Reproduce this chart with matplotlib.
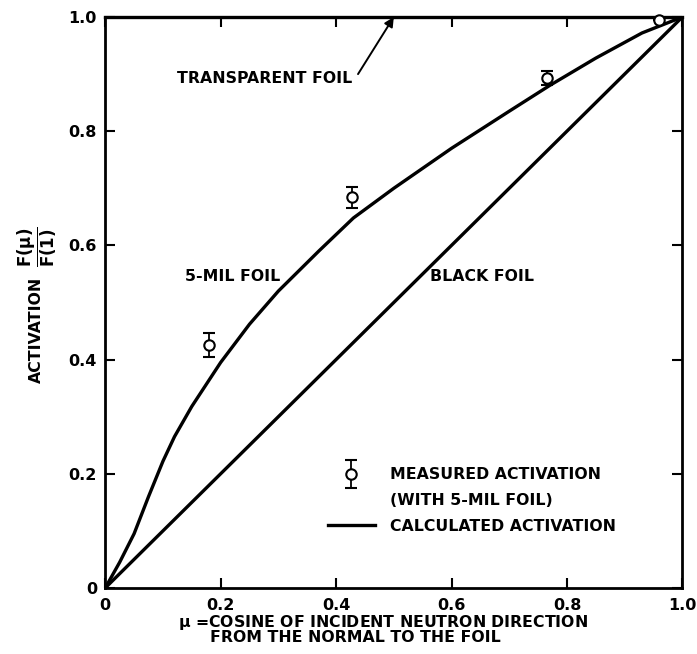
import matplotlib.pyplot as plt
from matplotlib.lines import Line2D
from matplotlib.container import ErrorbarContainer
from matplotlib.legend_handler import HandlerErrorbar

plt.rcParams['font.family'] = ['DejaVu Sans']
plt.rcParams['font.weight'] = 'bold'
plt.rcParams['mathtext.default'] = 'regular'

# calculated activation, 5-mil foil
mu = [0, 0.025, 0.05, 0.075, 0.1, 0.12, 0.15, 0.2, 0.25, 0.3, 0.37, 0.43,
      0.5, 0.6, 0.7, 0.77, 0.85, 0.93, 1.0]
f_5mil = [0, 0.045, 0.095, 0.16, 0.222, 0.265, 0.318, 0.395, 0.462, 0.52,
          0.59, 0.648, 0.70, 0.77, 0.835, 0.88, 0.928, 0.972, 1.0]

# black foil: activation proportional to mu
mu_black = [0, 1.0]
f_black = [0, 1.0]

# transparent foil: flat
mu_transp = [0, 1.0]
f_transp = [1.0, 1.0]

# measured points (5-mil foil)
mu_meas = [0.18, 0.428, 0.766, 0.96]
f_meas = [0.426, 0.684, 0.893, 0.995]
f_err = [0.021, 0.018, 0.012, 0.0]

ticks = [0, 0.2, 0.4, 0.6, 0.8, 1.0]
tick_labels = ['0', '0.2', '0.4', '0.6', '0.8', '1.0']

fs = 11.3

fig = plt.figure(figsize=(6.97, 6.54), dpi=100)
ax = fig.add_axes([0.151, 0.101, 0.828, 0.873])

ax.plot(mu, f_5mil, color='k', lw=2.4)
ax.plot(mu_black, f_black, color='k', lw=2.4)
ax.plot(mu_transp, f_transp, color='k', lw=2.4, clip_on=False)
meas = ax.errorbar(mu_meas, f_meas, yerr=f_err, fmt='o', ms=7.5, mfc='white',
                   mec='k', mew=1.5, ecolor='k', elinewidth=1.3, capsize=4,
                   capthick=1.3, clip_on=False, zorder=5)

ax.set_xlim(0, 1)
ax.set_ylim(0, 1)
ax.set_xticks(ticks)
ax.set_xticklabels(tick_labels)
ax.set_yticks(ticks)
ax.set_yticklabels(tick_labels)
ax.tick_params(direction='in', length=7, width=1.5, top=True, right=True,
               labelsize=11.5, pad=6)
ax.tick_params(axis='x', pad=7)
for s in ax.spines.values():
    s.set_linewidth(2)

ax.text(0.139, 0.545, '5-MIL FOIL', va='center', fontsize=fs)
ax.text(0.563, 0.545, 'BLACK FOIL', va='center', fontsize=fs)
ax.text(0.428, 0.893, 'TRANSPARENT FOIL', ha='right', va='center', fontsize=fs)
ax.annotate('', xy=(0.5, 1.0), xytext=(0.438, 0.9),
            arrowprops=dict(arrowstyle='-|>', color='k', lw=1.4,
                            mutation_scale=14, shrinkA=0, shrinkB=0))

# legend: second text line gets an empty handle so the marker sits on line one
blank = Line2D([], [], linestyle='none', marker='none')
handles = [meas, blank, Line2D([], [], color='k', lw=2.4)]
labels = ['MEASURED ACTIVATION', '(WITH 5-MIL FOIL)', 'CALCULATED ACTIVATION']
ax.legend(handles, labels, loc='upper left', bbox_to_anchor=(0.361, 0.236),
          frameon=False, handlelength=3.0, handletextpad=0.95,
          labelspacing=0.68, prop=dict(weight='bold', size=fs),
          handler_map={ErrorbarContainer: HandlerErrorbar(yerr_size=0.9)})

# y label: word plus ratio, rotated
fig.text(36 / 697, 1 - 330 / 654, 'ACTIVATION', rotation=90,
         ha='center', va='center', fontsize=fs)
fig.text(37 / 697, 1 - 247 / 654, r'$\dfrac{F(\mu)}{F(1)}$', rotation=90,
         ha='center', va='center', fontsize=12)

# x label, two lines
fig.text(178 / 697, 1 - 622 / 654, r'$\mu$ =COSINE OF INCIDENT NEUTRON DIRECTION',
         va='center', fontsize=fs)
fig.text(210 / 697, 1 - 638 / 654, 'FROM THE NORMAL TO THE FOIL',
         va='center', fontsize=fs)

plt.savefig('out.png', dpi=100)
